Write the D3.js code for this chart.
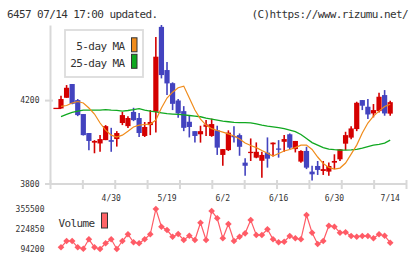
<!DOCTYPE html>
<html>
<head>
<meta charset="utf-8">
<script src="https://cdn.jsdelivr.net/npm/d3@7"></script>
<style>
  html, body { margin: 0; padding: 0; background: #fff; }
  text { font-family: "DejaVu Sans Mono", monospace; fill: #333; }
  .big { font-size: 11px; letter-spacing: -0.6px; }
  .small { font-size: 8px; }
</style>
</head>
<body>
<svg id="chart" width="420" height="259"></svg>
<script>
// ========= data =========
const opens  = [4160,4211,4277,4200,4133,4042,3996,3992,4008,4008,4013,4090,4075,4143,4114,4028,4080,4144,4551,4344,
                4281,4198,4147,4096,4051,4036,4072,4028,4055,3937,3960,4028,4032,3900,3946,3924,3909,3948,3988,3968,
                4000,4036,3965,3905,3956,3857,3884,3860,3857,3900,3916,3991,4020,4061,4200,4168,4136,4147,4224,4135];
const highs  = [4221,4272,4277,4205,4133,4042,4008,4032,4080,4067,4051,4143,4122,4163,4138,4095,4152,4503,4560,4382,
                4285,4205,4171,4128,4051,4077,4104,4111,4077,3965,4055,4075,4040,3921,4016,3997,3952,4021,3996,4008,
                4032,4040,4004,3960,3976,3885,3908,3908,3901,3940,3964,4048,4075,4192,4200,4205,4181,4235,4248,4197];
const lows   = [4160,4211,4180,4123,4030,3960,3945,3952,4008,3952,3977,4080,4066,4099,4023,4023,4032,4045,4304,4224,
                4152,4115,4051,4021,3997,3996,4028,4024,3937,3885,3956,3997,3933,3837,3908,3921,3828,3876,3929,3924,
                3952,3965,3949,3900,3869,3814,3841,3841,3837,3869,3908,3960,4012,4051,4152,4109,4117,4141,4125,4125];
const closes = [4205,4259,4182,4128,4032,4004,4004,4013,4075,4000,4042,4128,4114,4104,4042,4071,4095,4408,4320,4280,
                4182,4136,4067,4071,4028,4051,4083,4085,3972,3965,4044,4023,3976,3885,3952,3952,3937,3919,3996,3965,
                4013,3972,4004,3956,3876,3844,3865,3869,3884,3908,3964,4032,4064,4187,4173,4131,4152,4216,4136,4190];

const ma5  = [4170,4174,4186,4193,4186,4162,4133,4090,4056,4032,4023,4032,4051,4071,4080,4083,4085,4104,4162,4210,
              4238,4259,4267,4210,4152,4109,4080,4063,4054,4046,4038,4028,4013,3994,3982,3972,3958,3945,3932,3944,
              3956,3963,3972,3984,3984,3963,3927,3896,3877,3869,3874,3898,3941,3984,4042,4090,4123,4147,4169,4180];
const ma25 = [4121,4131,4141,4147,4152,4152,4152,4152,4154,4152,4151,4147,4150,4154,4159,4152,4147,4143,4139,4135,
              4133,4131,4129,4126,4123,4120,4113,4109,4104,4099,4096,4093,4092,4092,4091,4086,4080,4075,4072,4068,
              4063,4056,4049,4035,4016,3996,3984,3972,3965,3962,3960,3960,3961,3964,3970,3977,3984,3988,3994,4008];

const volumes = [105300,146500,146500,105300,96000,157600,105300,94200,131400,157600,
                 94200,146500,190200,138000,131400,157600,190200,355500,239900,218300,
                 174600,192200,153000,181100,153000,266000,153000,342400,294700,164100,
                 257500,146500,174600,196700,283600,185700,185700,222900,157600,138000,
                 141900,179100,164100,157600,316300,200700,126900,146500,246400,239900,
                 200700,203300,179100,174600,179100,179100,164100,190200,181100,135400];

const dateLabels = ["4/30", "5/19", "6/2", "6/16", "6/30", "7/14"];
const dateIndex  = [9, 19, 29, 39, 49, 59];
const priceTicks = [3800, 4200];
const volTicks   = [94200, 224850, 355500];
const weekTicks  = [0,1,2,3,4,5,6,7,8,9,10,11];

const UP = "#d40000", DOWN = "#4343bf";
const ORANGE = "#f08c1c", GREEN = "#10a820", VOL = "#ff5b66", AXIS = "#d8d8d8";

// ========= svg / scales =========
const svg = d3.select("#chart");

const x = d3.scaleLinear().domain([0, 59]).range([61, 390.2]);
const y = d3.scaleLinear().domain([3800, 4560]).range([183.5, 25]);
const yv = d3.scaleLinear().domain([94200, 355500]).range([249, 209]);
const xTick = d3.scaleLinear().domain([0, 11]).range([50, 406]);

// ========= header =========
svg.append("text").attr("class", "big").attr("x", 7).attr("y", 18)
    .text("6457 07/14 17:00 updated.");
svg.append("text").attr("class", "big").attr("x", 408).attr("y", 18)
    .attr("text-anchor", "end")
    .text("(C)https://www.rizumu.net/");

// ========= axes =========
const yAxis = svg.append("g")
    .attr("transform", "translate(50,0)")
    .call(d3.axisLeft(y).tickValues(priceTicks).tickFormat(d3.format("d"))
        .tickSize(5).tickPadding(5.5).tickSizeOuter(0));
yAxis.select(".domain").attr("stroke", AXIS).attr("stroke-width", 2);
yAxis.selectAll("line").attr("stroke", AXIS).attr("stroke-width", 2).attr("x1", 3);
yAxis.selectAll("text").attr("class", "small").attr("dy", "0.35em");

const xAxis = svg.append("g")
    .attr("transform", `translate(0,${y(3800)})`)
    .call(d3.axisBottom(xTick).tickValues(weekTicks).tickSize(5.5).tickSizeOuter(0).tickFormat(""));
xAxis.select(".domain").attr("stroke", AXIS).attr("stroke-width", 2);
xAxis.selectAll("line").attr("stroke", AXIS).attr("stroke-width", 2).attr("y1", -3.5);

// date labels
svg.append("g").selectAll("text")
    .data(dateLabels)
    .join("text")
    .attr("class", "small")
    .attr("x", (d, i) => x(dateIndex[i]))
    .attr("y", 200.5)
    .attr("text-anchor", "middle")
    .text(d => d);

// ========= candles =========
const candles = d3.range(opens.length).map(i => ({
    i, o: opens[i], h: highs[i], l: lows[i], c: closes[i]
}));

const cg = svg.append("g");

// previous-day stub left of the first candle
cg.append("line")
    .attr("x1", x(-1) - 2).attr("x2", x(0))
    .attr("y1", y(opens[0])).attr("y2", y(opens[0]))
    .attr("stroke", UP).attr("stroke-width", 1.3);

cg.selectAll(".wick")
    .data(candles)
    .join("line")
    .attr("class", "wick")
    .attr("x1", d => x(d.i)).attr("x2", d => x(d.i))
    .attr("y1", d => y(d.h)).attr("y2", d => y(d.l))
    .attr("stroke", d => d.c >= d.o ? UP : DOWN)
    .attr("stroke-width", 1.6);

cg.selectAll(".body")
    .data(candles)
    .join("rect")
    .attr("class", "body")
    .attr("x", d => x(d.i) - 2.6)
    .attr("width", 5.2)
    .attr("y", d => y(Math.max(d.o, d.c)))
    .attr("height", d => Math.max(1.3, Math.abs(y(d.o) - y(d.c))))
    .attr("fill", d => d.c >= d.o ? UP : DOWN);

// ========= moving averages =========
const maLine = d3.line().x((d, i) => x(i)).y(d => y(d));

svg.append("path").datum(ma25)
    .attr("d", maLine).attr("fill", "none")
    .attr("stroke", GREEN).attr("stroke-width", 1.3);

svg.append("path").datum(ma5)
    .attr("d", maLine).attr("fill", "none")
    .attr("stroke", ORANGE).attr("stroke-width", 1.2);

// ========= legend =========
const lg = svg.append("g");
lg.append("rect").attr("x", 65).attr("y", 30).attr("width", 78).attr("height", 47)
    .attr("fill", "#fff").attr("stroke", "#dcdcdc").attr("stroke-width", 1.8);

[["5-day MA", ORANGE, 50], ["25-day MA", GREEN, 66.5]].forEach(([label, col, by]) => {
    lg.append("text").attr("class", "big").attr("x", 124.5).attr("y", by)
        .attr("text-anchor", "end").text(label);
    lg.append("rect").attr("x", 131.5).attr("y", by - 12.2).attr("width", 5.5).attr("height", 14)
        .attr("fill", col).attr("stroke", "#333").attr("stroke-width", 1);
});

// ========= volume =========
const vg = svg.append("g");

vg.selectAll("text")
    .data(volTicks)
    .join("text")
    .attr("class", "small")
    .attr("x", 44.5)
    .attr("y", d => yv(d))
    .attr("dy", "0.35em")
    .attr("text-anchor", "end")
    .text(d => d);

vg.append("text").attr("class", "big").attr("x", 58.5).attr("y", 226.5).text("Volume");
vg.append("rect").attr("x", 101.5).attr("y", 213).attr("width", 6).attr("height", 15)
    .attr("fill", "#ff6467").attr("stroke", "#333").attr("stroke-width", 1);

vg.append("path").datum(volumes)
    .attr("d", d3.line().x((d, i) => x(i)).y(d => yv(d)))
    .attr("fill", "none").attr("stroke", VOL).attr("stroke-width", 1.2);

vg.selectAll(".pt")
    .data(volumes)
    .join("path")
    .attr("class", "pt")
    .attr("d", d3.symbol(d3.symbolSquare, 22))
    .attr("transform", (d, i) => `translate(${x(i)},${yv(d)}) rotate(45)`)
    .attr("fill", VOL);
</script>
</body>
</html>
